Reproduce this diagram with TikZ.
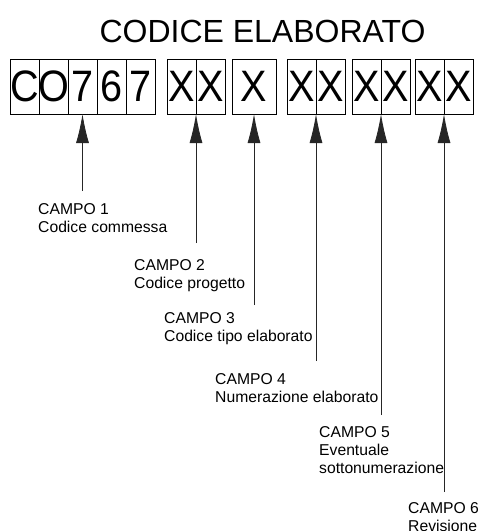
\documentclass[tikz,border=0pt]{standalone}
\usepackage{fontspec}
\setmainfont{Liberation Sans}
\newfontfamily\cellfamily[FakeStretch=0.9]{Liberation Sans}
\usetikzlibrary{arrows.meta}
\usetikzlibrary{positioning}

\newcommand{\glyph}[1]{\makebox[0pt]{#1}}

\begin{document}
\begin{tikzpicture}[x=1pt, y=1pt, >={Latex[length=29pt,width=13pt]},
                    cell/.style = {draw, minimum width=29pt, minimum height=55pt,
                                   inner sep=0pt, outer sep=0pt,
                                   font=\cellfamily\fontsize{44}{44}\selectfont},
                    wide cell/.style = {cell, minimum width=44pt},
                    field/.style = {anchor=north west, align=left, inner sep=0pt,
                                    font=\fontsize{15.7}{18}\selectfont},
                    pointer/.style = {->, line width=0.8pt, black!85}]
  \useasboundingbox (0,0) rectangle (480,-531);

  \node [anchor=base, font=\fontsize{32}{38}\selectfont] (title) at (262.5,-42) {CODICE ELABORATO};

  % campo 1
  \node [cell, anchor=north west] (c1) at (10,-59) {\glyph{C}};
  \node [cell] (c2) [right=0pt of c1] {\glyph{O}};
  \node [cell] (c3) [right=0pt of c2] {\glyph{7}};
  \node [cell] (c4) [right=0pt of c3] {\glyph{6}};
  \node [cell] (c5) [right=0pt of c4] {\glyph{7}};
  % campo 2
  \node [cell] (p1) [right=12pt of c5] {\glyph{X}};
  \node [cell] (p2) [right=0pt of p1] {\glyph{X}};
  % campo 3
  \node [wide cell] (t1) [right=7pt of p2] {\glyph{X}};
  % campo 4
  \node [cell] (n1) [right=11pt of t1] {\glyph{X}};
  \node [cell] (n2) [right=0pt of n1] {\glyph{X}};
  % campo 5
  \node [cell] (s1) [right=7pt of n2] {\glyph{X}};
  \node [cell] (s2) [right=0pt of s1] {\glyph{X}};
  % campo 6
  \node [cell] (r1) [right=5pt of s2] {\glyph{X}};
  \node [cell] (r2) [right=0pt of r1] {\glyph{X}};

  \node [field] (f1) at (38,-203)  {CAMPO 1\\Codice commessa};
  \node [field] (f2) at (134,-259) {CAMPO 2\\Codice progetto};
  \node [field] (f3) at (164,-312) {CAMPO 3\\Codice tipo elaborato};
  \node [field] (f4) at (215,-373) {CAMPO 4\\Numerazione elaborato};
  \node [field] (f5) at (319,-426) {CAMPO 5\\Eventuale\\sottonumerazione};
  \node [field] (f6) at (408,-502) {CAMPO 6\\Revisione};

  \coordinate (e1) at ([yshift=-77pt]c3.south);
  \coordinate (e2) at ([yshift=-129pt]p1.south east);
  \coordinate (e3) at ([yshift=-191pt]t1.south);
  \coordinate (e4) at ([yshift=-247pt]n1.south east);
  \coordinate (e5) at ([yshift=-301pt]s1.south east);
  \coordinate (e6) at ([yshift=-378pt]r1.south east);

  \draw [pointer] (e1) -- (c3.south);
  \draw [pointer] (e2) -- (p1.south east);
  \draw [pointer] (e3) -- (t1.south);
  \draw [pointer] (e4) -- (n1.south east);
  \draw [pointer] (e5) -- (s1.south east);
  \draw [pointer] (e6) -- (r1.south east);
\end{tikzpicture}
\end{document}
